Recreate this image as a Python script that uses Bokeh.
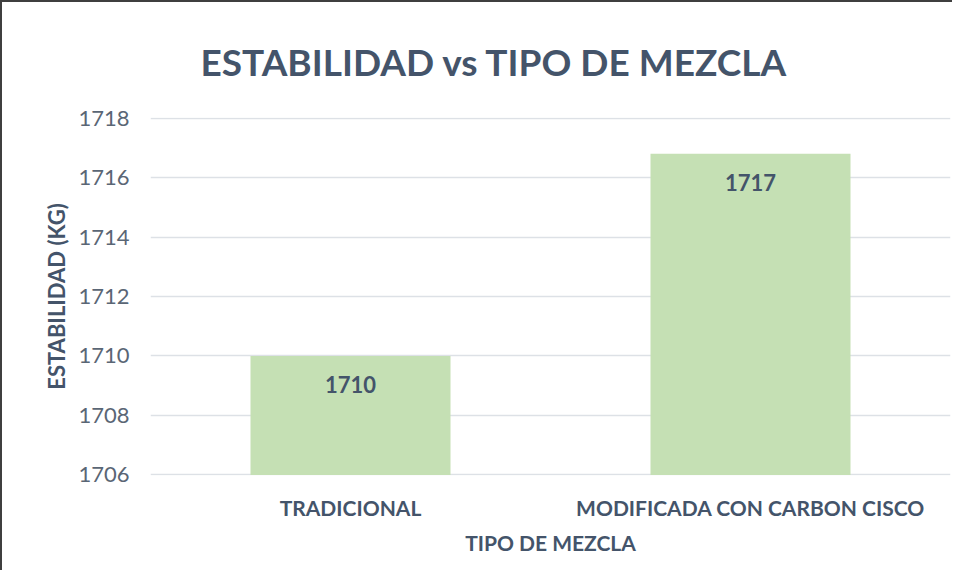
from bokeh.plotting import figure
from bokeh.models import Range1d, FactorRange, Title, ColumnDataSource
from bokeh.core.properties import value
from bokeh.embed import file_html
from bokeh.resources import INLINE

categories = ["TRADICIONAL", "MODIFICADA CON CARBON CISCO"]
estabilidad = [1710.0, 1716.8]
bar_labels = [f"{v:.0f}" for v in estabilidad]
y_ticks = [1706, 1708, 1710, 1712, 1714, 1716, 1718]

TEXT = "#44546A"
TICK = "#5A6675"
FONT = "Lato"

src = ColumnDataSource(dict(cat=categories, val=estabilidad, lab=bar_labels))

p = figure(width=952, height=570, output_backend="svg", toolbar_location=None,
           x_range=FactorRange(*categories, range_padding=0),
           y_range=Range1d(y_ticks[0] - 0.02, y_ticks[-1] + 0.02),
           min_border_left=148, min_border_right=4,
           min_border_top=115, min_border_bottom=97)
p.styles = {"border-left": "2px solid #3f3f3f", "border-top": "2px solid #3f3f3f"}
p.outline_line_color = None
p.background_fill_color = "white"
p.border_fill_color = "white"

p.vbar(x="cat", top="val", bottom=y_ticks[0], width=0.5, source=src,
       fill_color="#C5E0B4", line_color=None)
p.text(x="cat", y="val", text="lab", source=src, y_offset=29,
       text_align="center", text_baseline="middle",
       text_font=value(FONT), text_font_style="bold", text_font_size="22px",
       text_color=TEXT)

p.xgrid.grid_line_color = None
p.ygrid.grid_line_color = "#DDE1E6"
p.ygrid.grid_line_width = 1.5
p.yaxis.ticker = y_ticks

for ax in (p.xaxis[0], p.yaxis[0]):
    ax.axis_line_color = None
    ax.major_tick_line_color = None
    ax.minor_tick_line_color = None
    ax.major_label_text_font = FONT
    ax.axis_label_text_font = FONT
    ax.axis_label_text_font_style = "bold"
    ax.axis_label_text_color = TEXT

p.yaxis.major_label_text_color = TICK
p.yaxis.major_label_text_font_size = "22px"
p.yaxis.major_label_standoff = 15
p.yaxis.axis_label = "ESTABILIDAD (KG)"
p.yaxis.axis_label_text_font_size = "22px"
p.yaxis.axis_label_standoff = 5

p.xaxis.major_label_text_color = TEXT
p.xaxis.major_label_text_font_style = "bold"
p.xaxis.major_label_text_font_size = "21px"
p.xaxis.major_label_standoff = 13
p.xaxis.axis_label = "TIPO DE MEZCLA"
p.xaxis.axis_label_text_font_size = "21px"
p.xaxis.axis_label_standoff = 7

title = Title(text="ESTABILIDAD vs TIPO DE MEZCLA", align="left",
              offset=50, standoff=68, text_font=FONT, text_font_style="bold",
              text_font_size="37px", text_color=TEXT)
p.add_layout(title, "above")

open("out.html", "w").write(file_html(p, INLINE))
